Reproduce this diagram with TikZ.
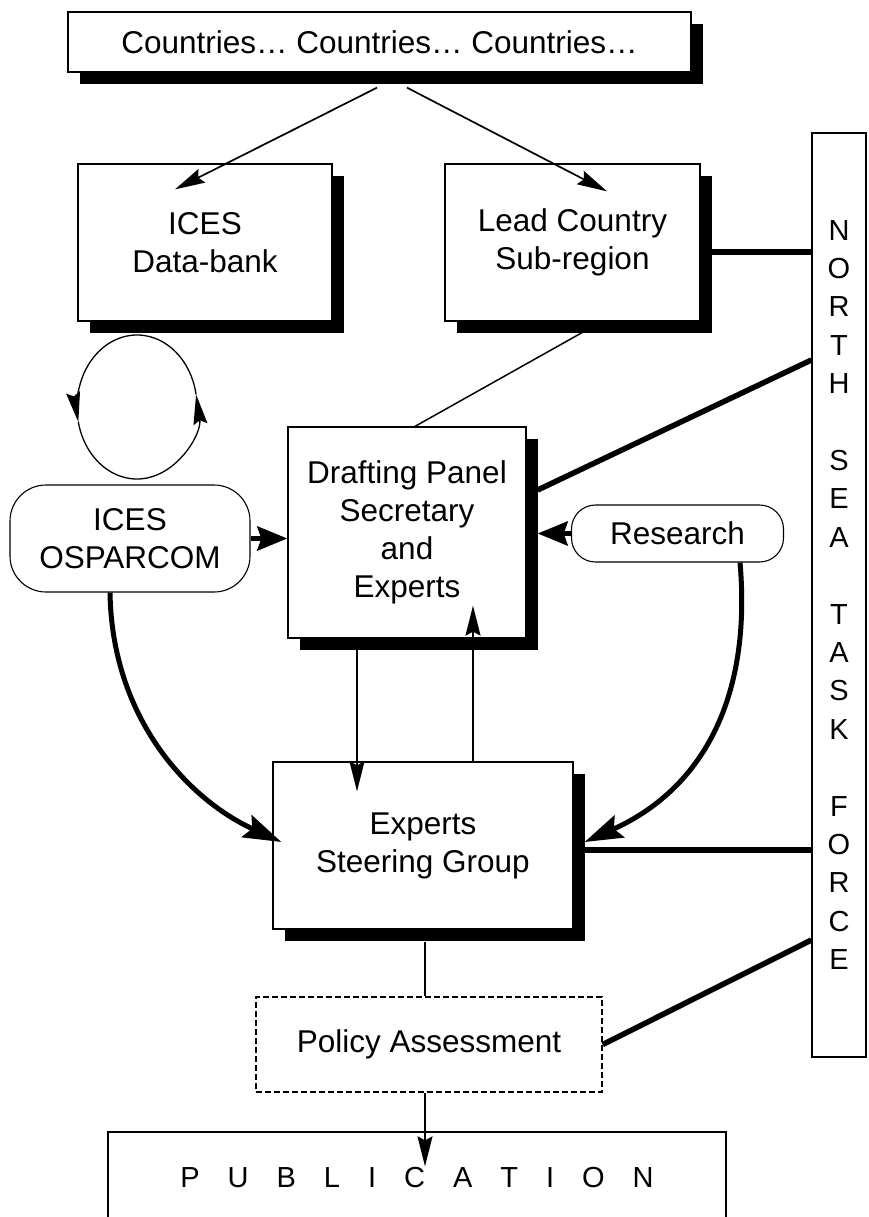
\documentclass[tikz,border=0pt]{standalone}
\usepackage{fontspec}
\setmainfont{Liberation Sans}
\usetikzlibrary{arrows.meta,calc}
\newcommand{\pubsp}{\hspace{28pt}}
\begin{document}
\begin{tikzpicture}[x=1pt,y=-1pt,
  every node/.style={font=\fontsize{31.5}{38}\selectfont, align=center, inner sep=0pt},
  box/.style={draw, line width=1.3pt, fill=white},
  shbox/.style={box, preaction={fill=black, transform canvas={xshift=12pt,yshift=-12pt}}},
  rbox/.style={box, line width=1.1pt},
  arr/.style={line width=1.7pt, -{Stealth[length=30pt,width=15pt,inset=4pt]}},
  bigarr/.style={line width=5pt, -{Stealth[length=30pt,width=24pt,inset=4pt]}},
  curvarr/.style={line width=5pt, -{Stealth[length=38pt,width=24pt,inset=6pt]}},
  cycarr/.style={line width=1.3pt, -{Stealth[length=30pt,width=14pt,inset=4pt]}},
  thickln/.style={line width=5.5pt},
  thinln/.style={line width=1.5pt}]
\fill[white] (0,0) rectangle (869,1217);
\useasboundingbox (0,0) rectangle (869,1217);

% nodes
\node[shbox, minimum width=623pt, minimum height=60pt] (top) at (379.5,42) {Countries… Countries… Countries…};
\node[shbox, minimum width=254pt, minimum height=157pt] (ices) at (205,242.5) {ICES\\Data-bank};
\node[shbox, minimum width=255pt, minimum height=157pt] (lead) at (572.5,242.5) {Lead Country\\Sub-region};
\node[shbox, minimum width=238pt, minimum height=211pt] (draft) at (407,532.5) {Drafting Panel\\Secretary\\and\\Experts};
\node[shbox, minimum width=300pt, minimum height=167pt] (exp) at (423,845.5) {Experts\\Steering Group};
\node[rbox, rounded corners=36pt, minimum width=240pt, minimum height=107pt] (osp) at (130,538.5) {ICES\\OSPARCOM};
\node[rbox, rounded corners=24pt, minimum width=212pt, minimum height=57pt] (res) at (677.5,533.5) {Research};
\node[box, line width=1.4pt, dash pattern=on 6pt off 3pt, minimum width=346pt, minimum height=95pt] (pol) at (429,1044.5) {Policy Assessment};
\node[box, minimum width=618pt, minimum height=92pt, font=\fontsize{29}{35}\selectfont] (pub) at (417,1178)
  {P\pubsp U\pubsp B\pubsp L\pubsp I\pubsp C\pubsp A\pubsp T\pubsp I\pubsp O\pubsp N};
\node[box, minimum width=54pt, minimum height=924pt, font=\fontsize{29}{38.4}\selectfont] (nstf) at (839,595)
  {N\\O\\R\\T\\H\\[38.4pt]S\\E\\A\\[38.4pt]T\\A\\S\\K\\[38.4pt]F\\O\\R\\C\\E};

% cycle symbol
\coordinate (cyc) at (137,407);
\draw[cycarr] ($(cyc)+(-10:60 and 72)$) arc[start angle=-10, end angle=-192, x radius=60, y radius=72];
\draw[cycarr] ($(cyc)+(168:60 and 72)$) arc[start angle=168, end angle=-10, x radius=60, y radius=72];

% connectors
\draw[arr] ($(top.south)+(-2.5,15)$) -- ($(ices.north)+(-30,26)$);
\draw[arr] ($(top.south)+(27.5,15)$) -- ($(lead.north)+(34.5,28)$);

\coordinate (leadout) at ($(lead.east)+(0,9.5)$);
\draw[thickln] (leadout) -- (leadout -| nstf.west);
\draw[thinln] ($(lead.south)+(9.5,11)$) -- ($(draft.north)+(8,0)$);
\draw[thickln] ($(nstf.west)+(0,-235)$) -- ($(draft.east)+(11,-42.5)$);

\draw[bigarr] (osp.east) -- (osp.east -| draft.west);
\coordinate (resin) at ($(res.west -| draft.east)+(11,0)$);
\draw[bigarr] (res.west) -- (resin);

\draw[arr] ($(draft.south)+(-50,10)$) -- ($(exp.north)+(-66,30)$);
\draw[arr] ($(exp.north)+(50,0)$) -- ($(draft.south)+(66,-33)$);

\draw[curvarr] ($(osp.south)+(-20,0)$) .. controls +(2,127) and +(-92,-42) .. ($(exp.west)+(9,-3.5)$);
\draw[curvarr] ($(res.south)+(62.5,0)$) .. controls +(12,138) and +(116,-52) .. ($(exp.east)+(11,-3.5)$);

\coordinate (expout) at ($(exp.east)+(0,4.5)$);
\draw[thickln] (expout) -- (expout -| nstf.west);
\draw[thinln] ($(exp.south)+(2,12)$) -- ($(pol.north)+(-4,0)$);
\draw[thickln] (pol.east) -- ($(nstf.west)+(0,345)$);
\draw[arr] ($(pol.south)+(-4,0)$) -- ($(pub.north)+(8,35)$);
\end{tikzpicture}
\end{document}
